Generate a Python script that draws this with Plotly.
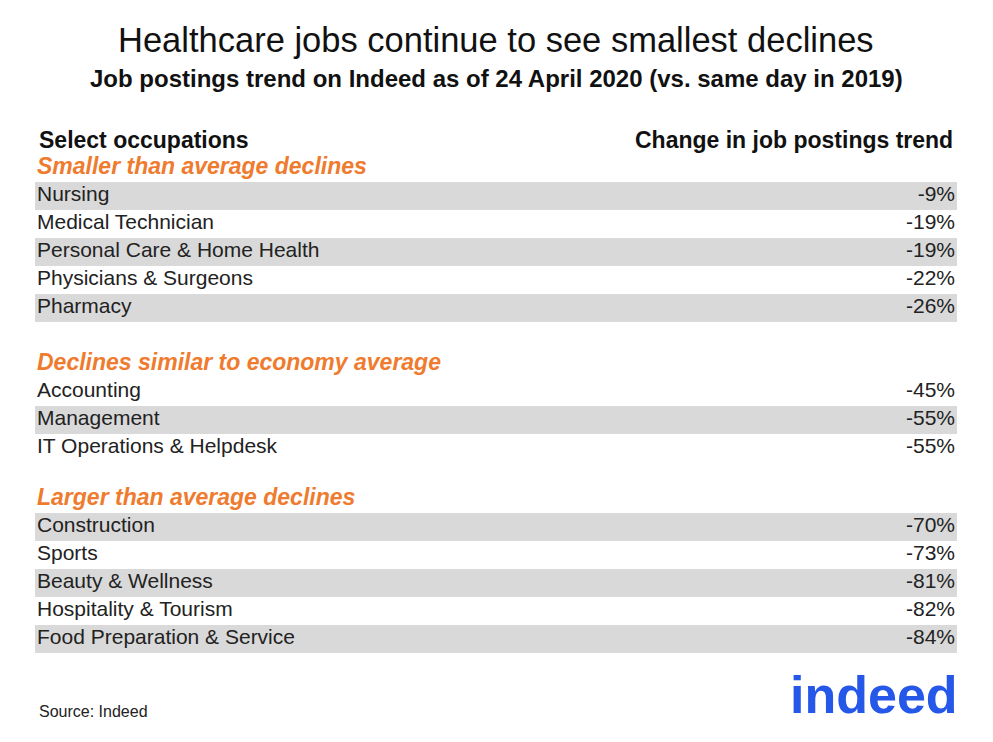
import plotly.graph_objects as go

groups = ["Smaller than average declines", "Declines similar to economy average", "Larger than average declines"]
occ1 = ["Nursing", "Medical Technician", "Personal Care & Home Health", "Physicians & Surgeons", "Pharmacy"]
val1 = [-9, -19, -19, -22, -26]
occ2 = ["Accounting", "Management", "IT Operations & Helpdesk"]
val2 = [-45, -55, -55]
occ3 = ["Construction", "Sports", "Beauty & Wellness", "Hospitality & Tourism", "Food Preparation & Service"]
val3 = [-70, -73, -81, -82, -84]
shaded1 = [True, False, True, False, True]
shaded2 = [False, True, False]
shaded3 = [True, False, True, False, True]

FONT = "Liberation Sans, Arial, sans-serif"
ORANGE = "#ef7b2e"
fig = go.Figure()

starts = [196, 392, 527]
step = 28
sections = [(occ1, val1, shaded1), (occ2, val2, shaded2), (occ3, val3, shaded3)]
for g, (occ, val, sh), y0 in zip(groups, sections, starts):
    ys = [y0 + i * step for i in range(len(occ))]
    sy = [y for y, s in zip(ys, sh) if s]
    fig.add_trace(go.Bar(orientation="h", y=sy, x=[922] * len(sy), base=35, width=28,
                         marker=dict(color="#d9d9d9", line=dict(width=0)), hoverinfo="skip"))
    fig.add_trace(go.Scatter(x=[37] * len(occ), y=ys, mode="text", text=occ, textposition="middle right",
                             textfont=dict(family=FONT, size=21, color="#222")))
    fig.add_trace(go.Scatter(x=[955] * len(occ), y=ys, mode="text", text=[f"{v}%" for v in val],
                             textposition="middle left", textfont=dict(family=FONT, size=21, color="#222")))
    fig.add_trace(go.Scatter(x=[37], y=[y0 - 28], mode="text", text=[f"<b><i>{g}</i></b>"],
                             textposition="middle right", textfont=dict(family=FONT, size=23, color=ORANGE)))

ann = [
    dict(x=496, y=40, text="Healthcare jobs continue to see smallest declines", size=34.5, color="#111", anchor="center"),
    dict(x=496, y=78, text="<b>Job postings trend on Indeed as of 24 April 2020 (vs. same day in 2019)</b>", size=24, color="#111", anchor="center"),
    dict(x=37, y=140, text="<b>Select occupations</b>", size=23, color="#111", anchor="left"),
    dict(x=955, y=140, text="<b>Change in job postings trend</b>", size=23, color="#111", anchor="right"),
    dict(x=37, y=711, text="Source: Indeed", size=16, color="#222", anchor="left"),
    dict(x=960, y=695, text="<b>indeed</b>", size=52, color="#2557e8", anchor="right"),
]
for a in ann:
    fig.add_annotation(x=a["x"], y=a["y"], xref="x", yref="y", text=a["text"], showarrow=False,
                       xanchor=a["anchor"], yanchor="middle",
                       font=dict(family=FONT, size=a["size"], color=a["color"]))

fig.update_layout(width=993, height=742, margin=dict(l=0, r=0, t=0, b=0), showlegend=False,
                  plot_bgcolor="white", paper_bgcolor="white", bargap=0,
                  xaxis=dict(range=[8, 1001], visible=False, fixedrange=True),
                  yaxis=dict(range=[750, 8], visible=False, fixedrange=True))
fig.write_html("out.html")
